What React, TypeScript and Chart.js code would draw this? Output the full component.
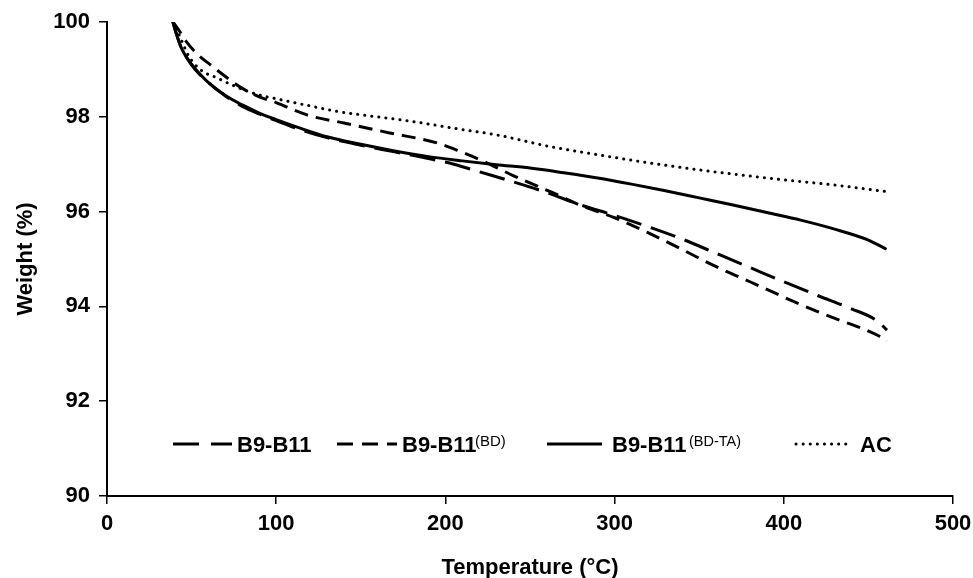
import React, { useEffect, useRef } from "react";
import { Chart, registerables } from "chart.js";

Chart.register(...registerables);

// ---- Data ----
const tempB9 = [39, 41, 44, 48, 52, 60, 70, 80, 90, 100, 115, 130, 150, 170, 190, 205, 220, 240, 260, 280, 300, 320, 340, 360, 380, 400, 420, 440, 455, 461];
const weightB9 = [100, 99.75, 99.45, 99.2, 99.0, 98.72, 98.44, 98.22, 98.06, 97.92, 97.72, 97.56, 97.4, 97.26, 97.12, 97.0, 96.84, 96.63, 96.4, 96.14, 95.92, 95.68, 95.42, 95.12, 94.82, 94.52, 94.23, 93.95, 93.7, 93.5];

const tempBD = [39, 43, 47, 54, 61, 70, 80, 90, 100, 110, 120, 140, 167, 195, 210, 222, 240, 262, 280, 300, 320, 340, 353, 366, 380, 393, 406, 420, 433, 446, 456, 461];
const weightBD = [100, 99.8, 99.58, 99.3, 99.1, 98.85, 98.6, 98.42, 98.3, 98.15, 98.02, 97.87, 97.66, 97.45, 97.25, 97.07, 96.76, 96.42, 96.13, 95.87, 95.55, 95.2, 94.96, 94.74, 94.52, 94.31, 94.1, 93.89, 93.71, 93.54, 93.38, 93.27];

const tempBDTA = [39, 41, 44, 48, 52, 60, 70, 80, 90, 100, 115, 130, 150, 170, 190, 210, 230, 250, 270, 290, 310, 330, 350, 370, 390, 410, 430, 450, 460];
const weightBDTA = [100, 99.75, 99.45, 99.2, 99.02, 98.72, 98.45, 98.25, 98.08, 97.94, 97.75, 97.58, 97.42, 97.28, 97.16, 97.07, 96.99, 96.92, 96.82, 96.71, 96.58, 96.44, 96.29, 96.14, 95.98, 95.82, 95.63, 95.4, 95.22];

const tempAC = [39, 43, 48, 55, 65, 80, 90, 100, 120, 135, 155, 175, 193, 210, 230, 262, 290, 320, 350, 380, 400, 430, 461];
const weightAC = [100, 99.7, 99.3, 99.0, 98.82, 98.58, 98.46, 98.38, 98.23, 98.12, 98.02, 97.93, 97.83, 97.73, 97.62, 97.37, 97.2, 97.03, 96.88, 96.75, 96.67, 96.56, 96.42];

const seriesNames = ["B9-B11", "B9-B11(BD)", "B9-B11(BD-TA)", "AC"];
const xRange = [0, 500];
const yRange = [90, 100];

const FONT = "'Liberation Sans', Arial, Helvetica, sans-serif";

function pts(xs: number[], ys: number[]) {
  return xs.map((x, i) => ({ x, y: ys[i] }));
}

export default function App() {
  const ref = useRef<HTMLCanvasElement>(null);

  useEffect(() => {
    if (!ref.current) return;
    const common = {
      borderColor: "#000",
      backgroundColor: "#000",
      pointRadius: 0,
      fill: false,
      cubicInterpolationMode: "monotone" as const,
    };
    const chart = new Chart(ref.current, {
      type: "line",
      data: {
        datasets: [
          { ...common, label: seriesNames[0], data: pts(tempB9, weightB9), borderWidth: 3, borderDash: [26, 10], borderCapStyle: "butt" },
          { ...common, label: seriesNames[1], data: pts(tempBD, weightBD), borderWidth: 3, borderDash: [14, 8], borderCapStyle: "butt" },
          { ...common, label: seriesNames[2], data: pts(tempBDTA, weightBDTA), borderWidth: 3, borderCapStyle: "round" },
          { ...common, label: seriesNames[3], data: pts(tempAC, weightAC), borderWidth: 3, borderDash: [0.1, 7], borderCapStyle: "round" },
        ],
      },
      options: {
        animation: false,
        responsive: false,
        maintainAspectRatio: false,
        layout: { padding: { left: 13, top: 22, right: 20, bottom: 0 } },
        plugins: { legend: { display: false }, tooltip: { enabled: false } },
        scales: {
          x: {
            type: "linear",
            min: xRange[0],
            max: xRange[1],
            afterFit: (s: any) => { s.height = 82; s.paddingRight = 0; s.paddingLeft = 0; },
            ticks: { stepSize: 100, color: "#000", padding: 7, font: { family: FONT, size: 22, weight: "bold" } },
            grid: { drawOnChartArea: false, drawTicks: true, tickLength: 8, color: "#000", lineWidth: 1.5 },
            border: { color: "#000", width: 2 },
            title: { display: true, text: "Temperature (°C)", color: "#000", padding: { top: 0, bottom: 0 }, font: { family: FONT, size: 22, weight: "bold", lineHeight: 0.95 } },
          },
          y: {
            type: "linear",
            min: yRange[0],
            max: yRange[1],
            afterFit: (s: any) => { s.width = 94; s.paddingTop = 0; s.paddingBottom = 0; },
            ticks: { stepSize: 2, color: "#000", padding: 9, font: { family: FONT, size: 22, weight: "bold" } },
            grid: { drawOnChartArea: false, drawTicks: true, tickLength: 8, color: "#000", lineWidth: 1.5 },
            border: { color: "#000", width: 2 },
            title: { display: true, text: "Weight (%)", color: "#000", padding: { top: 0, bottom: 0 }, font: { family: FONT, size: 22, weight: "bold" } },
          },
        },
      },
    } as any);
    return () => chart.destroy();
  }, []);

  const ly = 444;
  const ty = 452;
  const mainFont = { fontFamily: FONT, fontSize: 22, fontWeight: "bold" as const, fill: "#000" };
  const supFont = { fontFamily: FONT, fontWeight: "normal" as const, fill: "#000" };

  return (
    <div style={{ position: "absolute", left: 0, top: 0, width: 973, height: 578, background: "#fff" }}>
      <canvas ref={ref} width={973} height={578} style={{ display: "block", width: 973, height: 578 }} />
      <svg width={973} height={578} style={{ position: "absolute", left: 0, top: 0, pointerEvents: "none" }}>
        <line x1={173} x2={232} y1={ly} y2={ly} stroke="#000" strokeWidth={3} strokeDasharray="26 12" />
        <text x={237} y={ty} {...mainFont}>B9-B11</text>

        <line x1={337} x2={397} y1={ly} y2={ly} stroke="#000" strokeWidth={3} strokeDasharray="16 9" />
        <text x={402} y={ty} {...mainFont}>B9-B11</text>
        <text x={475} y={446} {...supFont} fontSize={15}>(BD)</text>

        <line x1={547} x2={602} y1={ly} y2={ly} stroke="#000" strokeWidth={3} />
        <text x={612} y={ty} {...mainFont}>B9-B11</text>
        <text x={689} y={446} {...supFont} fontSize={14.5}>(BD-TA)</text>

        <line x1={796} x2={852} y1={ly} y2={ly} stroke="#000" strokeWidth={3} strokeDasharray="0.1 7" strokeLinecap="round" />
        <text x={860} y={ty} {...mainFont}>AC</text>
      </svg>
    </div>
  );
}
